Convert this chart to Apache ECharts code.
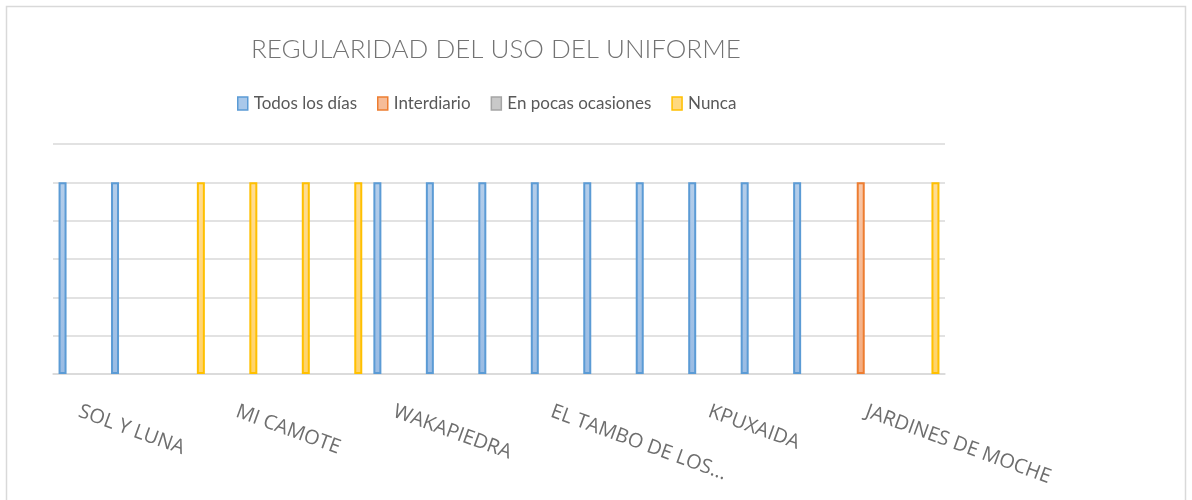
<!DOCTYPE html>
<html>
<head>
<meta charset="utf-8">
<script src="https://cdn.jsdelivr.net/npm/echarts@6/dist/echarts.min.js"></script>
<style>
	html, body { margin: 0; padding: 0; background: #fff; }
	#chart { width: 1192px; height: 500px; }
</style>
</head>
<body>
<div id="chart"></div>
<script>
// 데이터
var categories = ['SOL Y LUNA', 'Institución 2', 'Institución 3', 'MI CAMOTE', 'Institución 5', 'Institución 6',
	'WAKAPIEDRA', 'Institución 8', 'Institución 9', 'EL TAMBO DE LOS...', 'Institución 11', 'Institución 12',
	'KPUXAIDA', 'Institución 14', 'Institución 15', 'JARDINES DE MOCHE', 'Institución 17'];
var todosLosDias  = [1, 1, null, null, null, null, 1, 1, 1, 1, 1, 1, 1, 1, 1, null, null];
var interdiario   = [null, null, null, null, null, null, null, null, null, null, null, null, null, null, null, 1, null];
var enPocasOcasiones = [null, null, null, null, null, null, null, null, null, null, null, null, null, null, null, null, null];
var nunca         = [null, null, 1, 1, 1, 1, null, null, null, null, null, null, null, null, null, null, 1];

var font = "Lato, 'Open Sans', sans-serif";
var labelFont = "'Open Sans', sans-serif";

function grad(top, bottom) {
	return new echarts.graphic.LinearGradient(0, 0, 0, 1, [
		{ offset: 0, color: top },
		{ offset: 1, color: bottom }
	]);
}

function barSerie(name, data, fillTop, fillBottom, line) {
	return {
		name: name,
		type: 'bar',
		data: data,
		barWidth: 8,
		barGap: '39%',
		itemStyle: {
			color: grad(fillTop, fillBottom),
			borderColor: line,
			borderWidth: 2
		},
		emphasis: { disabled: true }
	};
}

var chart = echarts.init(document.getElementById('chart'));
var option = {
	backgroundColor: '#fff',
	animation: false,
	title: {
		text: 'REGULARIDAD DEL USO DEL UNIFORME',
		left: 251,
		top: 37,
		padding: 0,
		textStyle: { fontFamily: font, fontSize: 26, fontWeight: 300, color: '#737373' }
	},
	legend: {
		left: 237,
		top: 95,
		padding: 0,
		itemWidth: 10,
		itemHeight: 13,
		itemGap: 20,
		icon: 'rect',
		textStyle: { fontFamily: font, fontSize: 17, color: '#595959', padding: [0, 0, 0, 1] },
		data: [
			{ name: 'Todos los días', itemStyle: { color: '#a9c8ea', borderColor: '#5b9bd5', borderWidth: 1.5 } },
			{ name: 'Interdiario', itemStyle: { color: '#f6bc98', borderColor: '#ed7d31', borderWidth: 1.5 } },
			{ name: 'En pocas ocasiones', itemStyle: { color: '#c9c9c9', borderColor: '#a5a5a5', borderWidth: 1.5 } },
			{ name: 'Nunca', itemStyle: { color: '#ffd97f', borderColor: '#ffc000', borderWidth: 1.5 } }
		]
	},
	graphic: [{
		type: 'rect',
		shape: { x: 6.5, y: 6.5, width: 1179, height: 520 },
		style: { fill: 'none', stroke: '#d9d9d9', lineWidth: 1.5 },
		silent: true
	}],
	grid: { left: 53, right: 247, top: 144, bottom: 126 },
	xAxis: {
		type: 'category',
		data: categories,
		axisLine: { lineStyle: { color: '#d9d9d9', width: 1.5 } },
		axisTick: { show: false },
		axisLabel: {
			interval: 2,
			rotate: -20,
			margin: 37,
			fontFamily: labelFont,
			fontSize: 20,
			color: '#6e6e6e'
		}
	},
	yAxis: {
		type: 'value',
		min: 0,
		max: 1.2,
		interval: 0.2,
		axisLabel: { show: false },
		axisLine: { show: false },
		axisTick: { show: false },
		splitLine: { lineStyle: { color: '#d9d9d9', width: 1.5 } }
	},
	series: [
		barSerie('Todos los días', todosLosDias, '#b3cdea', '#9abce4', '#5b9bd5'),
		barSerie('Interdiario', interdiario, '#f8c8aa', '#f4ac80', '#ed7d31'),
		barSerie('En pocas ocasiones', enPocasOcasiones, '#d4d4d4', '#c0c0c0', '#a5a5a5'),
		barSerie('Nunca', nunca, '#ffdc94', '#ffd36a', '#ffc000')
	]
};
chart.setOption(option);
window.onresize = function() {
	chart.resize();
};
</script>
</body>
</html>
